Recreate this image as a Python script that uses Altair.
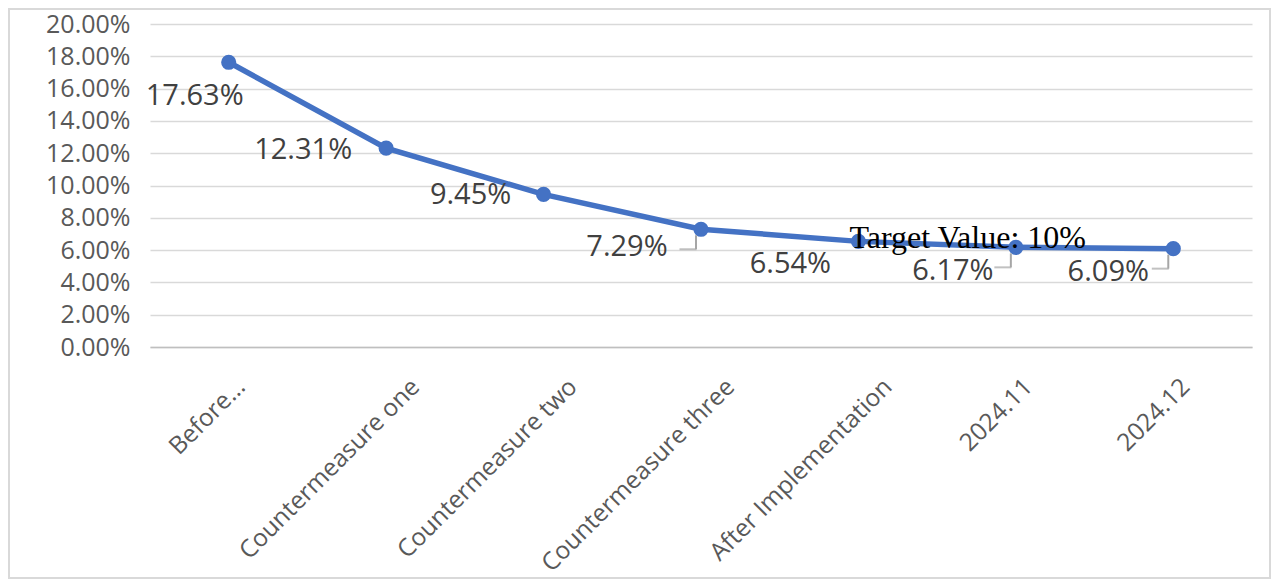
"""Defect rate trend before and after the countermeasures."""

import altair as alt
import pandas as pd

stages = ["Before...", "Countermeasure one", "Countermeasure two", "Countermeasure three",
          "After Implementation", "2024.11", "2024.12"]
rates = [0.1763, 0.1231, 0.0945, 0.0729, 0.0654, 0.0617, 0.0609]
target_text = "Target Value: 10%"
target_stage = "After Implementation"
y_ticks = [0.00, 0.02, 0.04, 0.06, 0.08, 0.10, 0.12, 0.14, 0.16, 0.18, 0.20]

# label placement (pixels from the point), like the Excel data labels
label_style = {
    "Before...": (-34, 34),
    "Countermeasure one": (-83, 2),
    "Countermeasure two": (-73, 1),
    "Countermeasure three": (-74, 18),
    "After Implementation": (-68, 23),
    "2024.11": (-63, 24),
    "2024.12": (-65, 23),
}
leader_stages = ["Countermeasure three", "2024.11", "2024.12"]

df = pd.DataFrame({"Stage": stages, "Rate": rates})
df["Label"] = [f"{r * 100:.2f}%" for r in rates]

BLUE = "#4472C4"

# Excel pushes the longer rotated labels further right of their tick
label_shift = {"condition": {"test": "length(datum.label) > 12", "value": 30}, "value": 13}

x_enc = alt.X("Stage:N", sort=stages, title=None,
              scale=alt.Scale(paddingInner=0, paddingOuter=0),
              axis=alt.Axis(labelAngle=315, labelAlign="right", labelBaseline="middle",
                            labelFontSize=24.5, labelColor="#595959", labelFont="Open Sans",
                            labelPadding=36, labelOffset=label_shift, ticks=False,
                            domainColor="#bfbfbf", domainWidth=1.5, labelLimit=400))
y_enc = alt.Y("Rate:Q", title=None,
              scale=alt.Scale(domain=[0, 0.2], nice=False),
              axis=alt.Axis(values=y_ticks, format=".2%", labelFontSize=25,
                            labelColor="#595959", labelFont="Open Sans", labelPadding=20,
                            labelOverlap=False, ticks=False, domain=False,
                            gridColor="#d9d9d9", gridWidth=1.5))

base = alt.Chart(df)

line = base.mark_line(color=BLUE, strokeWidth=5.5).encode(x=x_enc, y=y_enc)
points = base.mark_circle(color=BLUE, size=230, opacity=1).encode(x=x_enc, y=y_enc)

labels = []
for stage, (dx, dy) in label_style.items():
    labels.append(
        base.transform_filter(alt.datum.Stage == stage)
        .mark_text(dx=dx, dy=dy, fontSize=29, color="#404040", font="Open Sans")
        .encode(x=x_enc, y=y_enc, text="Label:N")
    )

leader_filter = alt.FieldOneOfPredicate(field="Stage", oneOf=leader_stages)
leader_v = base.transform_filter(leader_filter).mark_rule(
    color="#a6a6a6", strokeWidth=2, xOffset=-5, yOffset=6, y2Offset=20
).encode(x=x_enc, y=y_enc, y2="Rate:Q")
leader_h = base.transform_filter(leader_filter).mark_tick(
    color="#a6a6a6", thickness=2, size=17, xOffset=-13, yOffset=20, orient="horizontal"
).encode(x=x_enc, y=y_enc)

target = base.transform_filter(alt.datum.Stage == target_stage).mark_text(
    text=target_text, align="left", baseline="alphabetic", dx=-9, dy=7,
    fontSize=32, font="Liberation Serif", color="#000000"
).encode(x=x_enc, y=y_enc)

frame = alt.Chart(pd.DataFrame({"f": [0]})).mark_rect(
    fill=None, stroke="#d9d9d9", strokeWidth=2
).encode(x=alt.value(-141), x2=alt.value(1120), y=alt.value(-15), y2=alt.value(554))

chart = alt.layer(frame, line, points, leader_v, leader_h, *labels, target).properties(
    width=1102,
    height=323,
    autosize=alt.AutoSizeParams(type="none"),
    padding={"left": 142, "top": 16, "right": 20, "bottom": 232},
).configure_view(stroke=None)

chart.save("out.html", embed_options={"renderer": "svg", "actions": False})
